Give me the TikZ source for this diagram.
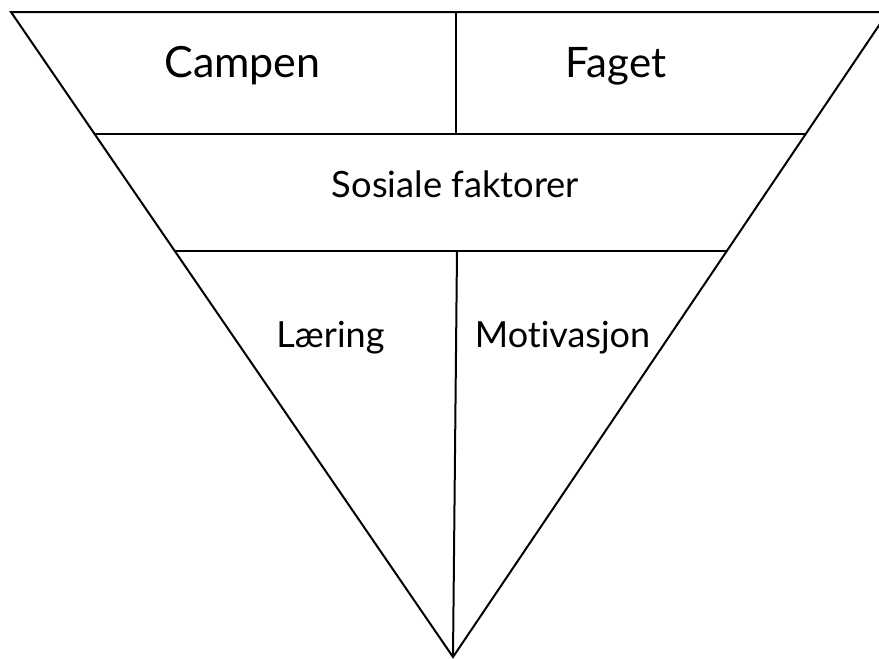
\documentclass[tikz,border=0pt]{standalone}
\usepackage{fontspec}
\setmainfont[Ligatures=NoCommon]{Lato}
\begin{document}
\begin{tikzpicture}[x=1pt,y=-1pt,
  edge/.style={line width=2pt, line join=miter},
  lbl/.style={anchor=base, inner sep=0pt, font=#1}]
\useasboundingbox (0,0) rectangle (879,659);
\clip (0,0) rectangle (879,659);
% outline vertices
\coordinate (tl) at (11,12);
\coordinate (tr) at (888,12);
\coordinate (apex) at (453,657);
% band lines
\coordinate (b1l) at (95,134);
\coordinate (b1r) at (806,134);
\coordinate (b2l) at (175,251);
\coordinate (b2r) at (727,251);
\coordinate (v1t) at (456,12);
\coordinate (v1b) at (456,134);
\coordinate (v2t) at (457,251);
\draw[edge] (tl) -- (tr) -- (apex) -- cycle;
\draw[edge] (b1l) -- (b1r);
\draw[edge] (b2l) -- (b2r);
\draw[edge] (v1t) -- (v1b);
\draw[edge] (v2t) -- (apex);
% labels
\node[lbl={\fontsize{43}{50}\selectfont}] (campen) at (242.5,77) {Campen};
\node[lbl={\fontsize{42}{50}\selectfont}] (faget) at (616,77) {Faget};
\node[lbl={\fontsize{36.3}{42}\selectfont}] (sosiale) at (455.5,197) {Sosiale faktorer};
\node[lbl={\fontsize{36}{42}\selectfont}] (laering) at (330.5,347) {Læring};
\node[lbl={\fontsize{36}{42}\selectfont}] (motiv) at (562.5,347) {Motivasjon};
\end{tikzpicture}
\end{document}
